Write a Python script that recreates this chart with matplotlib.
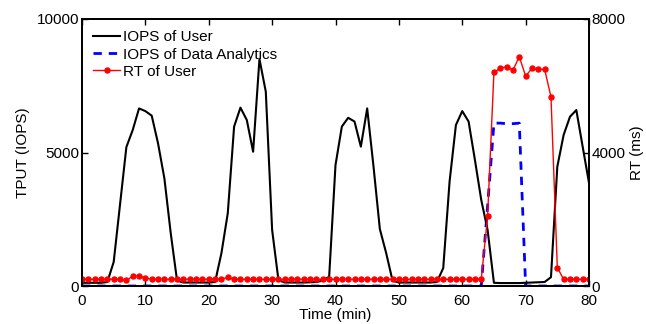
import matplotlib
matplotlib.use("Agg")
import matplotlib.pyplot as plt
import numpy as np

plt.rcParams['font.family'] = ['Liberation Sans', 'DejaVu Sans']

time_min = list(range(0, 81))

iops_user = [
    120, 120, 120, 120, 150, 900, 3050, 5200, 5840, 6650,
    6550, 6380, 5340, 4030, 1980, 200, 130, 130, 130, 130,
    130, 150, 1230, 2720, 5970, 6680, 6220, 5030, 8500, 7280,
    2100, 220, 130, 130, 130, 130, 140, 150, 200, 350,
    4530, 5970, 6300, 6160, 5220, 6650, 4470, 2130, 1230, 200,
    130, 130, 130, 130, 130, 130, 150, 670, 3910, 6030,
    6550, 6160, 4720, 3220, 2100, 120, 110, 110, 110, 110,
    120, 130, 140, 150, 330, 4470, 5660, 6340, 6590, 5220,
    3860,
]

iops_da = [0] * 63 + [0, 3000, 6100, 6100, 6080, 6080, 6100] + [0] * 11

rt_user = [
    200, 200, 200, 200, 210, 200, 200, 170, 290, 290,
    250, 200, 200, 200, 200, 200, 200, 200, 200, 200,
    200, 200, 200, 260, 200, 200, 200, 200, 200, 200,
    200, 200, 200, 200, 200, 200, 200, 200, 200, 200,
    200, 200, 200, 200, 200, 200, 200, 200, 200, 200,
    200, 200, 200, 200, 200, 200, 200, 200, 200, 200,
    200, 200, 200, 200, 2100, 6400, 6520, 6570, 6470, 6870,
    6290, 6520, 6490, 6490, 5670, 550, 200, 200, 200, 200,
    200,
]

left_ticks = [0, 5000, 10000]
right_ticks = [0, 4000, 8000]
x_ticks = list(range(0, 81, 10))

fig = plt.figure(figsize=(6.46, 3.24), dpi=100)
ax1 = fig.add_axes([82/646, 1 - 286/324, (589-82)/646, (286-19)/324])
ax2 = ax1.twinx()

l1, = ax1.plot(time_min, iops_user, color='black', lw=1.5, label='IOPS of User', zorder=3)
l2, = ax1.plot(time_min, iops_da, color='blue', lw=2.0, ls=(0, (3, 2.5)), label='IOPS of Data Analytics', zorder=2)
l3, = ax2.plot(time_min, rt_user, color='red', lw=1.0, marker='o', ms=3.6, label='RT of User')

ax1.set_xlim(0, 80)
ax1.set_ylim(0, 10000)
ax2.set_ylim(0, 8000)
ax1.set_xticks(x_ticks)
ax1.set_yticks(left_ticks)
ax2.set_yticks(right_ticks)

fs = 11
ax1.tick_params(axis='both', direction='in', length=4, width=1, labelsize=fs, top=True, pad=2)
ax1.tick_params(axis='x', pad=5.5)
ax1.tick_params(axis='y', right=False)
ax2.tick_params(axis='y', direction='in', length=4, width=1, labelsize=fs, pad=2)
for ax in (ax1, ax2):
    for s in ax.spines.values():
        s.set_linewidth(1.3)

ax1.set_xlabel('Time (min)', fontsize=fs, labelpad=0)
ax1.set_ylabel('TPUT (IOPS)', fontsize=fs, labelpad=5)
ax2.set_ylabel('RT (ms)', fontsize=fs, labelpad=3)

leg = ax2.legend(handles=[l1, l2, l3], loc='upper left', frameon=False, fontsize=fs,
                 handlelength=1.75, handletextpad=0.2, labelspacing=0.2,
                 borderaxespad=0.45, borderpad=0.3)

fig.savefig('out.png', dpi=100)
